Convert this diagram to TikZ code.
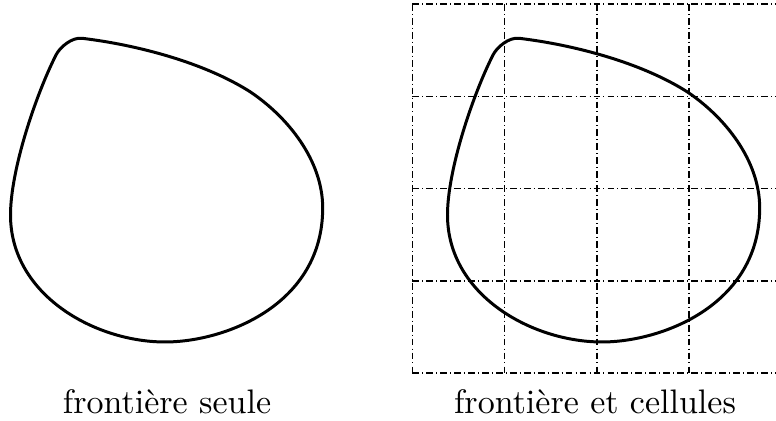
\documentclass[tikz,border=0pt]{standalone}
\begin{document}
\begin{tikzpicture}[x=0.294pt,y=-0.294pt,
  blob/.style={line width=0.88pt,line join=round},
  gridline/.style={line width=0.44pt,dash pattern=on 2pt off 0.9pt on 0.3pt off 0.9pt},
  caption/.style={font=\normalsize,anchor=base}]
\useasboundingbox (0,0) rectangle (776,421);
\clip (0,0) rectangle (776,421);
\def\blobpath{(56,55) .. controls (60,47) and (72,37.1) .. (82,38.3)
  .. controls (137,44.9) and (204,62.5) .. (250,91.7)
  .. controls (287.4,116.7) and (322.7,160) .. (322.7,208)
  .. controls (322.7,305) and (225,342) .. (165,342)
  .. controls (95,342) and (10.5,295) .. (10.5,215)
  .. controls (10.5,170) and (35.75,95) .. (56,55) -- cycle}
% left: boundary only
\draw[blob] \blobpath;
% right: boundary and cells
\begin{scope}[shift={(437,0)}]
  \draw[blob] \blobpath;
\end{scope}
\foreach \i in {0,...,4} {
  \draw[gridline] ({412.3+92.3*\i},4) -- ({412.3+92.3*\i},373.2);
  \draw[gridline] (412.3,{4+92.3*\i}) -- (781.5,{4+92.3*\i});
}
\node[caption] (capL) at (167,414) {frontière seule};
\node[caption] (capR) at (595,414) {frontière et cellules};
\end{tikzpicture}
\end{document}
